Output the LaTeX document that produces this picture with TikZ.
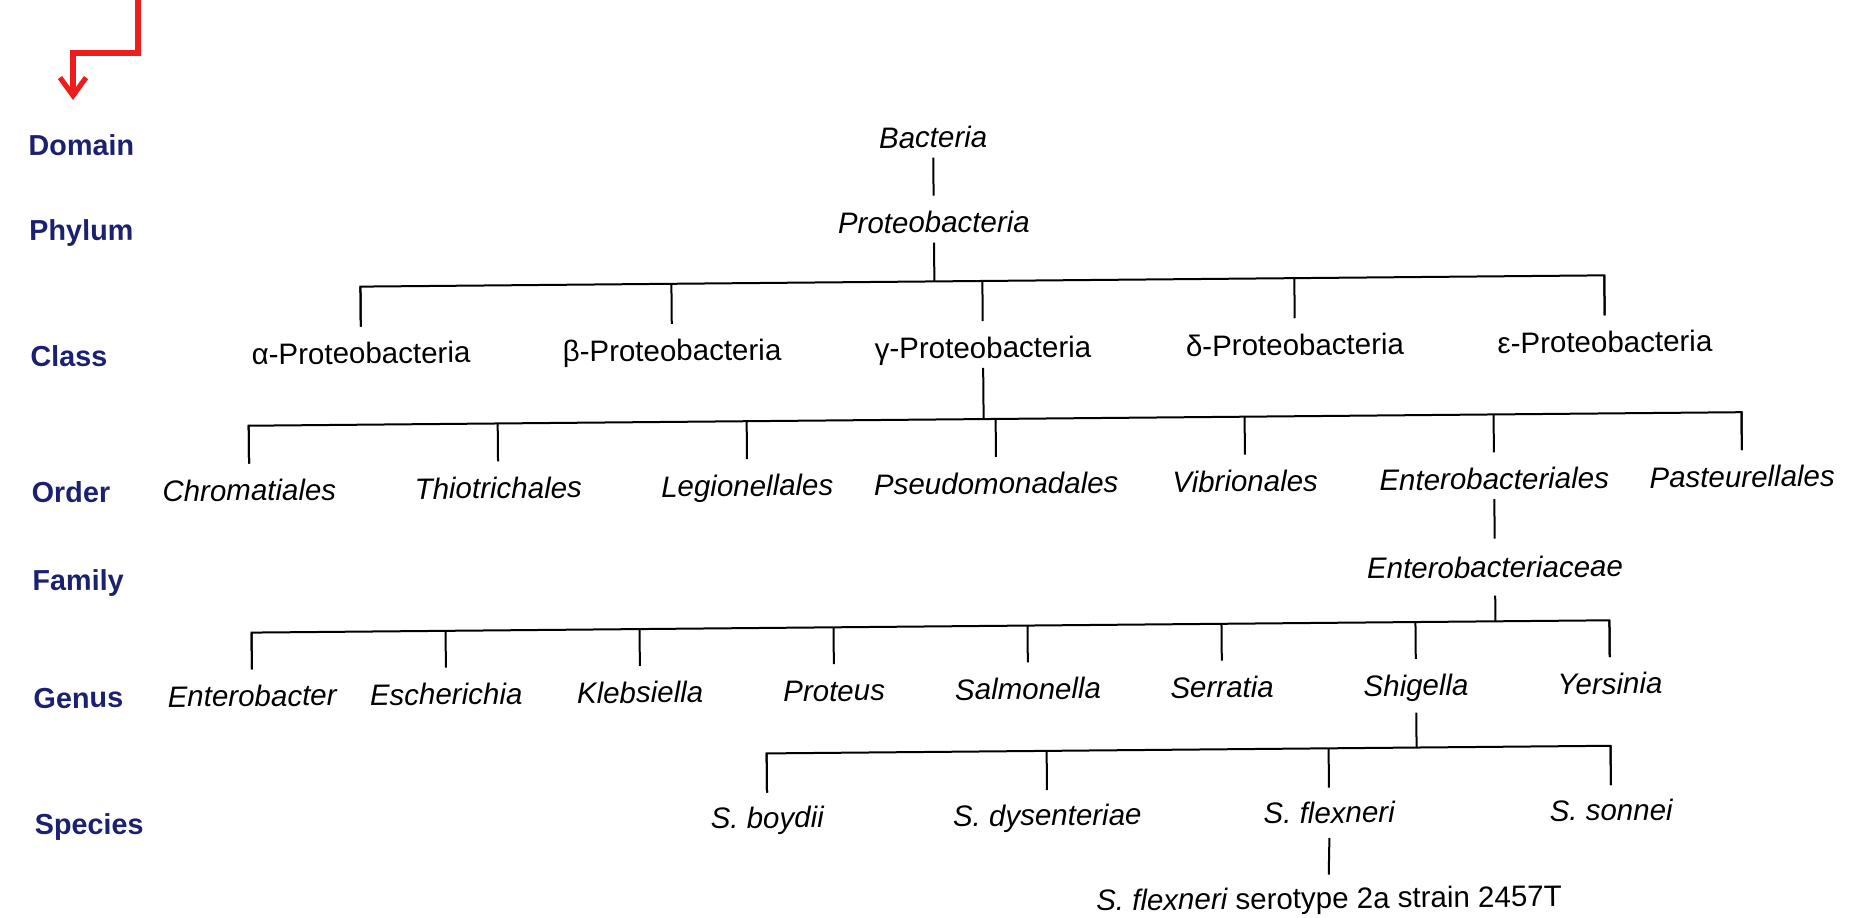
\documentclass[tikz,border=0pt]{standalone}
\usepackage{fontspec}
\setmainfont{Liberation Sans}
\usetikzlibrary{arrows.meta}
\definecolor{labelblue}{RGB}{28,32,112}
\definecolor{arrowred}{RGB}{238,28,28}
\begin{document}
\begin{tikzpicture}[x=0.5pt,y=-0.5pt,
  lbl/.style={font=\fontsize{14.4}{17}\selectfont\bfseries, text=labelblue, anchor=base west, inner sep=0pt},
  tx/.style={font=\fontsize{14.75}{17}\selectfont\itshape, inner sep=0pt, anchor=base, text height=18.3pt, text depth=4.7pt},
  up/.style={tx, font=\fontsize{14.75}{17}\selectfont\upshape},
  link/.style={draw=black, line width=1pt, line join=miter},
  redline/.style={draw=arrowred, line width=2.6pt, line join=miter}]
\fill[white] (0,0) rectangle (1849,917);
\useasboundingbox (0,0) rectangle (1849,917);
\begin{scope}[rotate around={0.52:(925,458)}, transform shape]
  % rank labels
  \node[lbl] (Ldom) at (31,147.8) {Domain};
  \node[lbl] (Lphy) at (31,232.8) {Phylum};
  \node[lbl] (Lcla) at (31,358.6) {Class};
  \node[lbl] (Lord) at (31,494.6) {Order};
  \node[lbl] (Lfam) at (31,582.9) {Family};
  \node[lbl] (Lgen) at (31,700.3) {Genus};
  \node[lbl] (Lspe) at (31,826.8) {Species};
  % domain / phylum
  \node[tx] (bac) at (936,147.8) {Bacteria};
  \node[tx] (pro) at (936,232.8) {Proteobacteria};
  \draw[link] (bac.south) -- (pro.north);
  % class
  \coordinate (cbar) at (936,281.5);
  \draw[link] (pro.south) -- (cbar);
  \foreach \n/\x/\t in {ca/362/α-Proteobacteria, cb/673/β-Proteobacteria, cg/984/γ-Proteobacteria, cd/1296/δ-Proteobacteria, ce/1606/ε-Proteobacteria}{
    \node[up] (\n) at (\x,358.6) {\t};
    \coordinate (t\n) at (\x,281.5);
    \draw[link] (\n.north) -- (t\n);
  }
  \draw[link] (ca.north) -- (tca) -- (tce) -- (ce.north);
  % order
  \coordinate (obar) at (984,419.6);
  \draw[link] (cg.south) -- (obar);
  \foreach \n/\x/\t in {o1/249/Chromatiales, o2/498/Thiotrichales, o3/747/Legionellales, o4/996/Pseudomonadales, o5/1245/Vibrionales, o6/1494/Enterobacteriales, o7/1742/Pasteurellales}{
    \node[tx] (\n) at (\x,494.6) {\t};
    \coordinate (t\n) at (\x,419.6);
    \draw[link] (\n.north) -- (t\n);
  }
  \draw[link] (o1.north) -- (to1) -- (to7) -- (o7.north);
  % family
  \node[tx, text height=19.3pt, text depth=8.7pt] (entc) at (1494,582.9) {Enterobacteriaceae};
  \draw[link] (o6.south) -- (entc.north);
  % genus
  \coordinate (gbar) at (1494,626.5);
  \draw[link] (entc.south) -- (gbar);
  \foreach \n/\x/\t in {g1/250/Enterobacter, g2/444/Escherichia, g3/638/Klebsiella, g4/832/Proteus, g5/1026/Salmonella, g6/1220/Serratia, g7/1414/Shigella, g8/1608/Yersinia}{
    \node[tx, text depth=8.2pt] (\n) at (\x,700.3) {\t};
    \coordinate (t\n) at (\x,626.5);
    \draw[link] (\n.north) -- (t\n);
  }
  \draw[link] (g1.north) -- (tg1) -- (tg8) -- (g8.north);
  % species
  \coordinate (sbar) at (1414,752);
  \draw[link] (g7.south) -- (sbar);
  \foreach \n/\x/\t in {s1/764/S. boydii, s2/1044/S. dysenteriae, s3/1326/S. flexneri, s4/1608/S. sonnei}{
    \node[tx, text height=17.55pt, text depth=7.2pt] (\n) at (\x,826.8) {\t};
    \coordinate (t\n) at (\x,752);
    \draw[link] (\n.north) -- (t\n);
  }
  \draw[link] (s1.north) -- (ts1) -- (ts4) -- (s4.north);
  % strain
  \node[up, text height=16.8pt] (strain) at (1325,912.2) {{\itshape S. flexneri} serotype 2a strain 2457T};
  \draw[link] (s3.south) -- (strain.north);
\end{scope}
% red pointer
\coordinate (r0) at (138,0);
\coordinate (r1) at (138,53);
\coordinate (r2) at (73,53);
\coordinate (r3) at (73,100);
\draw[redline, -{Straight Barb[length=9pt,width=13pt]}] (r0) -- (r1) -- (r2) -- (r3);
\end{tikzpicture}
\end{document}
